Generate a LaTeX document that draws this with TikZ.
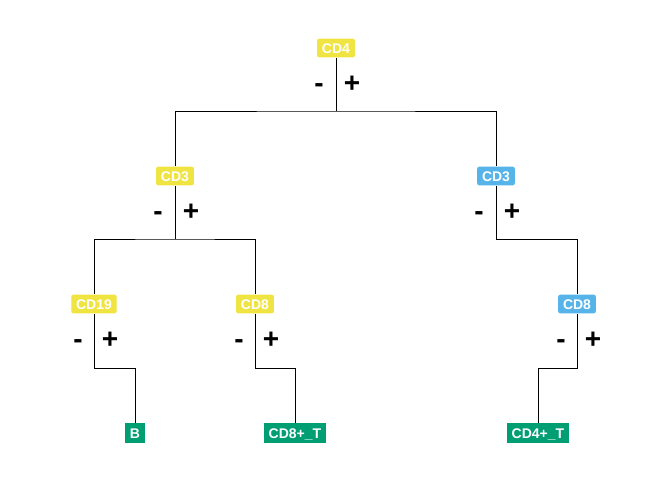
\documentclass[tikz,border=0pt]{standalone}
\usepackage{fontspec}
\setmainfont{Liberation Sans}
\definecolor{okyellow}{HTML}{F0E442}
\definecolor{okblue}{HTML}{56B4E9}
\definecolor{okgreen}{HTML}{009E73}
\begin{document}
\begin{tikzpicture}[x=0.75pt,y=-0.75pt,
  lbl/.style={fill=#1,text=white,font=\fontsize{10.5}{12}\selectfont\bfseries,
    rounded corners=1.5pt,inner xsep=3.6pt,inner ysep=3.2pt,text height=7.6pt,text depth=0pt},
  leaf/.style={fill=okgreen,text=white,font=\fontsize{10.5}{12}\selectfont\bfseries,
    inner xsep=3.6pt,inner ysep=3.4pt,text height=7.6pt,text depth=0pt},
  sgn/.style={font=\fontsize{21}{24}\selectfont\bfseries,inner sep=0pt,anchor=base},
  edge/.style={draw=black,line width=0.75pt}]
\useasboundingbox (0,0) rectangle (672,480);
% label nodes
\node[lbl=okyellow] (cd4) at (336,48) {CD4};
\node[lbl=okyellow] (cd3l) at (175,176) {CD3};
\node[lbl=okblue] (cd3r) at (496,176) {CD3};
\node[lbl=okyellow] (cd19) at (94,304) {CD19};
\node[lbl=okyellow] (cd8l) at (255,304) {CD8};
\node[lbl=okblue] (cd8r) at (577,304) {CD8};
\node[leaf] (b) at (135,433) {B};
\node[leaf] (t8) at (295,433) {CD8+\_T};
\node[leaf] (t4) at (538,433) {CD4+\_T};
% level coordinates
\coordinate (lev1) at (0,111);
\coordinate (lev2) at (0,239);
\coordinate (lev3) at (0,368);
% signs
\node[sgn] (m1) at (319,92) {-};
\node[sgn] (p1) at (352,92) {+};
\node[sgn] (m2) at (158,220) {-};
\node[sgn] (p2) at (191,220) {+};
\node[sgn] (m3) at (479,220) {-};
\node[sgn] (p3) at (512,220) {+};
\node[sgn] (m4) at (78,348) {-};
\node[sgn] (p4) at (110,348) {+};
\node[sgn] (m5) at (239,348) {-};
\node[sgn] (p5) at (271,348) {+};
\node[sgn] (m6) at (561,348) {-};
\node[sgn] (p6) at (593,348) {+};
% connectors
\draw[edge] (cd4.south) -- (cd4.south |- lev1);
\draw[edge] (cd3l.north) |- (cd4.south |- lev1) -| (cd3r.north);
\draw[edge] (cd3l.south) -- (cd3l.south |- lev2);
\draw[edge] (cd19.north) |- (cd3l.south |- lev2) -| (cd8l.north);
\draw[edge] (cd3r.south) -- (cd3r.south |- lev2) -| (cd8r.north);
\draw[edge] (cd19.south) -- (cd19.south |- lev3) -| (b.north);
\draw[edge] (cd8l.south) -- (cd8l.south |- lev3) -| (t8.north);
\draw[edge] (cd8r.south) -- (cd8r.south |- lev3) -| (t4.north);
\end{tikzpicture}
\end{document}
